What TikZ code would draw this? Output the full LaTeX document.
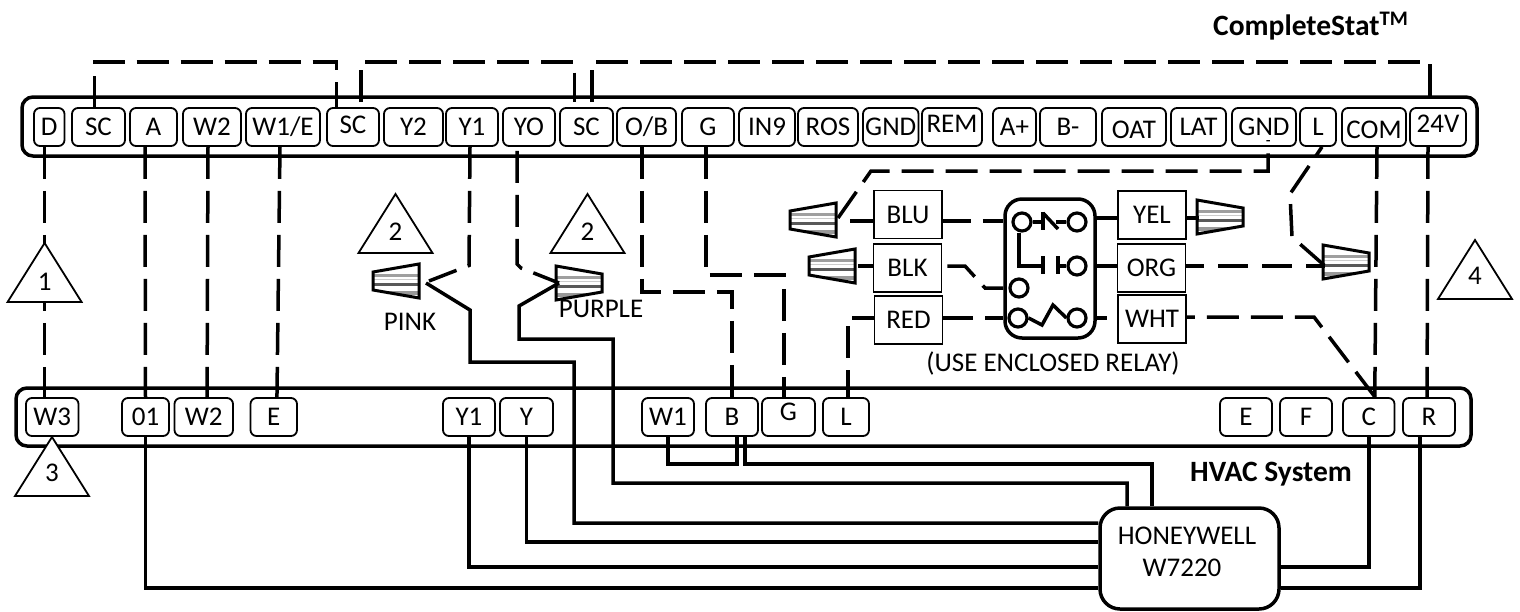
\documentclass[tikz,border=0pt]{standalone}
\usepackage{fontspec}
\setmainfont{Carlito}
\usetikzlibrary{calc}
\tikzset{
  lab/.style={font=\fontsize{27}{31}\selectfont,inner sep=0pt},
  boldlab/.style={font=\fontsize{29.5}{34}\selectfont\bfseries,inner sep=0pt},
  termbox/.style={lab,draw,line width=1.8pt,rounded corners=6pt,minimum height=38pt,text height=17pt,text depth=0pt},
  relaybox/.style={lab,draw,line width=1.8pt,minimum width=68pt,minimum height=48pt,text height=17pt,text depth=0pt},
  bar/.style={draw,line width=3.5pt,rounded corners=11pt,inner sep=0pt},
  wire/.style={line width=3.5pt},
  relaywire/.style={line width=3.5pt},
  dashwire/.style={line width=3.5pt,dash pattern=on 32pt off 12pt},
  contact/.style={draw,circle,line width=3.2pt,minimum size=18pt,inner sep=0pt},
  tri/.style={draw,fill=white,line width=1.8pt,line join=miter},
  nut/.pic={
    \begin{scope}
      \clip (-23,-9) -- (23,-17) -- (23,17) -- (-23,9) -- cycle;
      \fill[gray!75] (-23,-7) rectangle (23,-4);
      \fill[black!65] (-23,2) rectangle (23,5);
      \fill[gray!40] (-23,-2) rectangle (23,-1);
      \fill[gray!80] (-23,10) rectangle (23,14);
    \end{scope}
    \draw[line width=3pt] (-23,-9) -- (23,-17) -- (23,17) -- (-23,9) -- cycle;
  }
}
\begin{document}
\begin{tikzpicture}[x=1pt,y=-1pt]
\useasboundingbox (0,0) rectangle (1520,611);

\node[bar,minimum width=1455pt,minimum height=59pt] (topbar) at (749.5,126.5) {};
\node[bar,minimum width=1455pt,minimum height=58pt] (hvacbar) at (743.5,417) {};

\foreach \name/\l/\r/\txt in {D/34/64.5/D,SCa/72/125/SC,A/130/177/A,W2/183/241/W2,W1E/246/320/{W1/E},
    SCb/327/379/{\raisebox{2pt}{SC}},Y2/384/443/Y2,Y1/446/498/Y1,YO/503/555/YO,SCc/560/613/SC,OB/617/676/{O/B},
    G/682/734/G,IN9/739/795/IN9,ROS/798/858/ROS,GNDa/863/918.5/GND,REM/922/982/{\raisebox{3pt}{REM}},
    Ap/993/1036/A+,Bm/1040/1096/B-,OAT/1102/1166/{\raisebox{-3pt}{OAT}},LAT/1171/1226/LAT,GNDb/1232/1296/GND,
    L/1300/1336/L,COM/1342/1406/{\raisebox{-3pt}{COM}},V24/1410/1466/{\raisebox{3pt}{24V}}}
  \node[termbox,minimum width={(\r-\l)*1pt}] (t\name) at ({(\l+\r)/2},127) {\txt};

\foreach \name/\l/\r/\txt in {W3/26/78.5/W3,o1/122/169/01,W2/174.5/233/W2,E/250.5/297/E,Y1/443/495/Y1,Y/500/553/Y,
    W1/642/694/W1,B/706/758/B,G/762/815/{\raisebox{5pt}{G}},L/823/869/L,Ea/1220/1272/E,F/1280/1332/F,C/1343/1394.5/C,R/1403/1455/R}
  \node[termbox,minimum width={(\r-\l)*1pt}] (b\name) at ({(\l+\r)/2},417) {\txt};

\node[boldlab,anchor=base west] (title) at (1213,35) {CompleteStat\textsuperscript{TM}};
\node[boldlab] (hvaclabel) at (1271,474) {HVAC System};
\node[lab] (pinklabel) at (410,322) {PINK};
\node[lab] (purplelabel) at (601,309) {PURPLE};
\node[lab] (relaylabel) at (1053,363) {(USE ENCLOSED RELAY)};

% relay
\node[draw,line width=3.5pt,rounded corners=17pt,minimum width=90pt,minimum height=139pt] (relay) at (1050,268.5) {};
\node[relaybox] (BLU) at (908,214.5) {BLU};
\node[relaybox] (BLK) at (907.5,268) {BLK};
\node[relaybox] (RED) at (908.5,320) {RED};
\node[relaybox] (YEL) at (1152,215) {YEL};
\node[relaybox] (ORG) at (1151.5,268) {ORG};
\node[relaybox] (WHT) at (1152,319) {WHT};
\node[contact] (ca) at (1022,222) {};
\node[contact] (cb) at (1077,222) {};
\node[contact] (cc) at (1077,266) {};
\node[contact] (cd) at (1019,288) {};
\node[contact] (ce) at (1018,318) {};
\node[contact] (cf) at (1077,318) {};
\draw[relaywire] (ca.east) -- (1043,222);
\draw[relaywire] (1043,212) -- (1043,230);
\draw[relaywire] (1043,213) -- (1058,229);
\draw[relaywire] (1056,222) -- (cb.west);
\draw[relaywire] ([xshift=-3pt]ca.south) |- (1043,266);
\draw[relaywire] (1043,256) -- (1043,274);
\draw[relaywire] (1058,256) -- (1058,274);
\draw[relaywire] (1058,266) -- (cc.west);
\draw[relaywire] (ce.east) -- (1042,325) -- (1053,305) -- (cf.west);

% wire nuts
\coordinate (nPink) at (426,283);
\coordinate (nPinkb) at (429,281);
\coordinate (nPurple) at (559,283);
\coordinate (nBLU) at (838,218);
\coordinate (nBLK) at (858,266);
\coordinate (nYEL) at (1199,218);
\coordinate (nORG) at (1325,266);
\pic at (396,281) {nut};
\pic[xscale=-1] at (579,283) {nut};
\pic at (813,220) {nut};
\pic at (832,266) {nut};
\pic[xscale=-1] at (1220,217) {nut};
\pic[xscale=-1] at (1346,262) {nut};

% hvac side
\node[draw,line width=3.5pt,rounded corners=20pt,minimum width=179pt,minimum height=101pt] (hw) at (1189.5,558.5) {};
\node[lab] (hwtop) at (1187,536) {HONEYWELL};
\node[lab] (hwbot) at (1182,568) {W7220};

\draw[wire] (bo1.south) |- ([yshift=-29.5pt]hw.west);
\draw[wire] (bY1.south) |- ([yshift=-8.5pt]hw.west);
\draw[wire] (bY.south) |- ([yshift=16.5pt]hw.west);
\draw[wire] (nPink) -- (470,310) -- (470,362) -- (574,362) |- ([yshift=35.5pt]hw.west);
\draw[wire] (nPurple) -- (519,306) -- (519,339) -- (613,339) -- (613,483) -| ([xshift=-62.5pt]hw.north);
\draw[wire] ([xshift=13pt]bB.south) -- ++(0,27) -| ([xshift=-37.5pt]hw.north);
\draw[wire] (bW1.south) -- ++(0,27) -| ([xshift=5pt]bB.south);
\draw[wire] (bC.south) |- ([yshift=-8.5pt]hw.east);
\draw[wire] ([xshift=-9pt]bR.south) |- ([yshift=-29.5pt]hw.east);

% dashed runs
\draw[dashwire] ([xshift=-4.6pt]tD.south) -- ([xshift=-7.6pt]bW3.north);
\draw[dashwire] ([xshift=-8.5pt]tA.south) -- (bo1.north);
\draw[dashwire] ([xshift=-4pt]tW2.south) -- ([xshift=3.3pt]bW2.north);
\draw[dashwire] ([xshift=-3pt]tW1E.south) -- ([xshift=3.2pt]bE.north);
\draw[dashwire] ([xshift=-4.5pt]tOB.south) -- (642,292) -- (732,292) -- (bB.north);
\draw[dashwire] ([xshift=-2pt]tG.south) -- (706,275) -- (784,275) -- ([xshift=-4.5pt]bG.north);
\draw[dashwire] ([xshift=-2pt]tY1.south) -- (469,265.5) -- (nPinkb);
\draw[dashwire] ([shift={(-12pt,-4pt)}]tYO.south) -- (517,264) -- (521,268) -- (nPurple);
\draw[dashwire] ([xshift=3pt]tCOM.south) -- ([xshift=6pt]bC.north);
\draw[dashwire] ([xshift=-10pt]tV24.south) -- ([xshift=-2pt]bR.north);
\draw[dashwire] (94.5,108) -- (94.5,62) -- (336.5,62) -- (336.5,108);
\draw[dashwire] (361,102) -- (361,62) -- (574.5,62) -- (574.5,102);
\draw[dashwire] (592,102) -- (592,62) -- (1430,62) -- (1430,97);
\draw[dashwire] (nBLU) -- (871,171) -- (1268,171) -- (1268,140);
\draw[dashwire,dash phase=21pt] ([xshift=4pt]tL.south) -- (1290,194) -- (1292,237) -- (nORG);
\draw[wire] (850,221) -- ([yshift=-6.5pt]BLU.west);
\draw[dashwire,dash phase=4pt] ([yshift=-6.5pt]BLU.east) -- (relay.west |- 0,221);
\draw[wire] (nBLK) -- ([yshift=2pt]BLK.west);
\draw[dashwire,dash phase=39pt] ([yshift=2pt]BLK.east) -- (965,266) -- (985,288) -- (relay.west |- cd);
\draw[dashwire,dash phase=10pt] (RED.west |- 0,318) -- (848,318) -- ([xshift=2pt]bL.north);
\draw[dashwire,dash phase=2pt] (RED.east |- 0,318) -- (relay.west |- 0,318);
\draw[wire] (relay.east |- 0,218) -- (YEL.west |- 0,218);
\draw[wire] (YEL.east |- 0,218) -- (nYEL);
\draw[wire] (relay.east |- 0,266) -- (ORG.west |- 0,266);
\draw[dashwire,dash phase=12pt,dash pattern=on 30pt off 14pt] (ORG.east |- 0,266) -- (nORG);
\draw[wire] (relay.east |- 0,318) -- (1107,318);
\draw[dashwire,dash phase=24pt] (WHT.east |- 0,317) -- (1314,317) -- (1375,397);

% numbered triangles
\foreach \name/\tx/\ty/\num/\ny in {a/44.6/243/1/282,b/395.5/194/2/232,c/587.5/194/2/232,d/52/437/3/473,e/1475/240/4/276} {
  \draw[tri] (\tx,\ty) -- ++(37,59) -- ++(-74,0) -- cycle;
  \node[lab] (tri\name) at (\tx,\ny) {\num};
}
\end{tikzpicture}
\end{document}
